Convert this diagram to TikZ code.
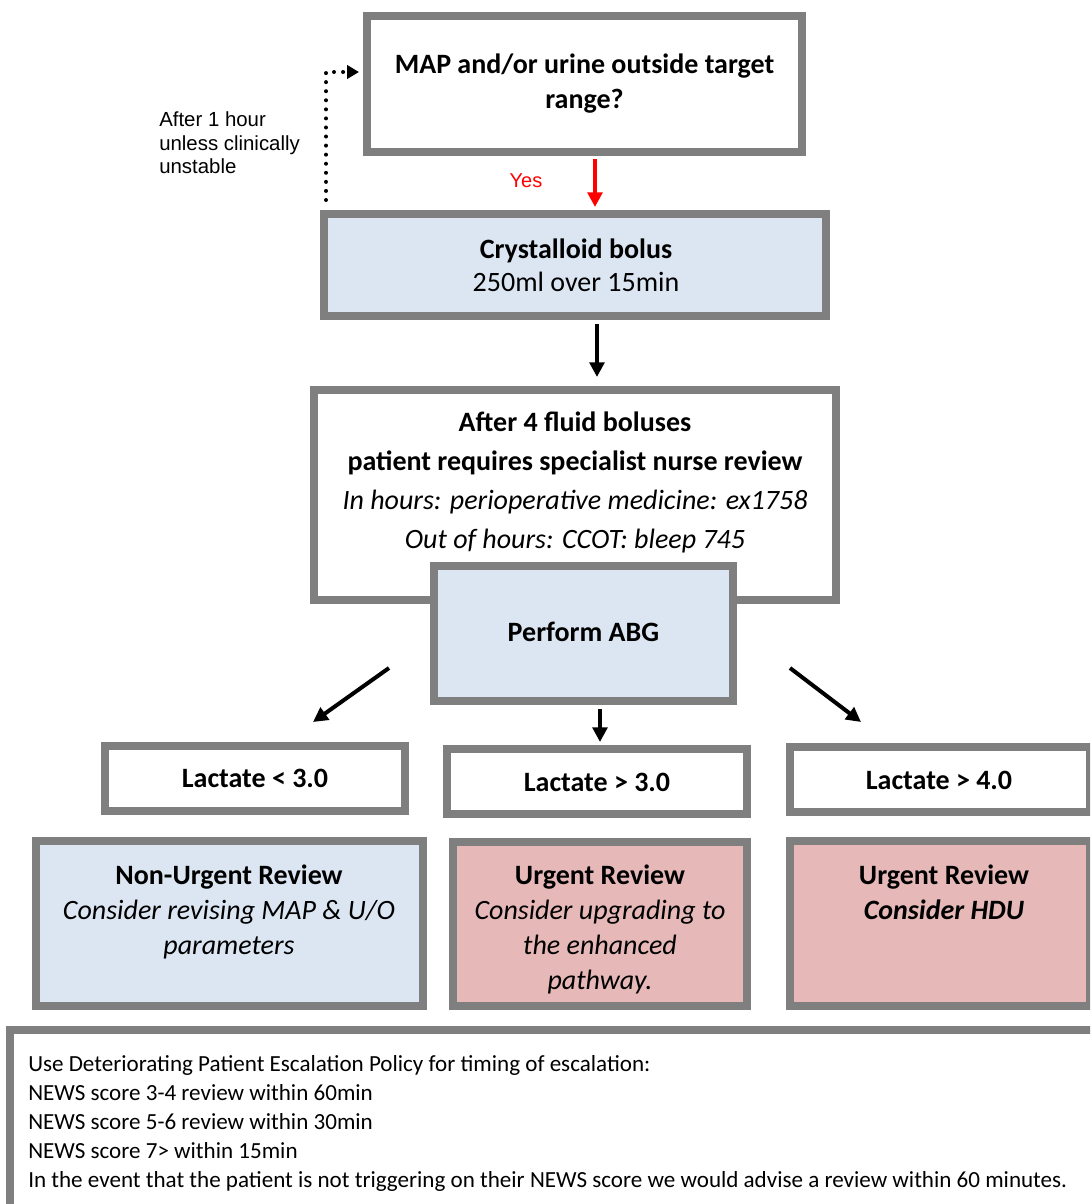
\documentclass[tikz,border=0pt]{standalone}
\usepackage{fontspec}
\setmainfont{Carlito}
\newfontfamily\arialf{Liberation Sans}
\usetikzlibrary{arrows.meta,calc}
\definecolor{bgray}{RGB}{127,127,127}
\definecolor{lblue}{RGB}{220,230,242}
\definecolor{lpink}{RGB}{230,185,184}
\definecolor{yesred}{RGB}{255,0,0}
\begin{document}
\begin{tikzpicture}[x=0.75pt,y=-0.75pt,
  box/.style={draw=bgray,line width=6pt,inner sep=0pt,rectangle},
  txt/.style={inner sep=0pt,align=center,font=\fontsize{21}{26.25}\selectfont},
  btxt/.style={inner sep=0pt,align=center,font=\fontsize{21}{26.25}\selectfont\bfseries},
  arr/.style={line width=3pt,-{Triangle[length=11pt,width=11pt]}},
  note/.style={inner sep=0pt,align=left,font=\fontsize{17.3}{21.75}\selectfont},
  ann/.style={inner sep=0pt,align=left,font=\arialf\fontsize{15.3}{17.6}\selectfont}]
\clip (0,0) rectangle (1090,1204);
\fill[white] (0,0) rectangle (1090,1204);

% boxes
\node[box,fill=white,minimum width=326.25pt,minimum height=102pt] (map) at (584.5,84) {};
\node[box,fill=lblue,minimum width=376.5pt,minimum height=76.5pt] (cryst) at (575,265) {};
\node[box,fill=white,minimum width=391.5pt,minimum height=157.5pt] (after) at (575,495) {};
\node[box,fill=lblue,minimum width=224.25pt,minimum height=101.25pt] (abg) at (583.5,633.5) {};
\node[box,fill=white,minimum width=225pt,minimum height=48.75pt] (la) at (255,778.5) {};
\node[box,fill=white,minimum width=225pt,minimum height=48.75pt] (lb) at (597,781.5) {};
\node[box,fill=white,minimum width=225pt,minimum height=48.75pt] (lc) at (940,779) {};
\node[box,fill=lblue,minimum width=290.25pt,minimum height=123.75pt] (nu) at (229.5,923.5) {};
\node[box,fill=lpink,minimum width=220.5pt,minimum height=123pt] (ur) at (600,924) {};
\node[box,fill=lpink,minimum width=225pt,minimum height=123.75pt] (urh) at (940,923.5) {};
\node[box,fill=white,minimum width=817.5pt,minimum height=135pt] (policy) at (555,1120) {};

% texts
\node[btxt] (tmap) at (584.5,83.5) {MAP and/or urine outside target\\range?};
\node[txt,font=\fontsize{21}{24.75}\selectfont] (tcryst) at (576,265) {\textbf{Crystalloid bolus}\\250ml over 15min};
\node[txt,font=\fontsize{21}{29.25}\selectfont] (tafter) at (575,482.5) {\textbf{After 4 fluid boluses}\\\textbf{patient requires specialist nurse review}\\\textit{In hours: perioperative medicine: ex1758}\\\textit{Out of hours: CCOT: bleep 745}};
\node[btxt] (tabg) at (583.5,632) {Perform ABG};
\node[btxt] (tla) at (255,778) {Lactate < 3.0};
\node[btxt] (tlb) at (597,782) {Lactate > 3.0};
\node[btxt] (tlc) at (939,780) {Lactate > 4.0};
\node[txt] (tnu) at (229,912) {\textbf{Non-Urgent Review}\\\textit{Consider revising MAP \& U/O}\\\textit{parameters}};
\node[txt] (tur) at (600,929) {\textbf{Urgent Review}\\\textit{Consider upgrading to}\\\textit{the enhanced}\\\textit{pathway.}};
\node[txt] (turh) at (944,892) {\textbf{Urgent Review}\\\textbf{\textit{Consider HDU}}};
\node[note,anchor=north west] (tpolicy) at (28,1055) {Use Deteriorating Patient Escalation Policy for timing of escalation:\\NEWS score 3-4 review within 60min\\NEWS score 5-6 review within 30min\\NEWS score 7> within 15min\\In the event that the patient is not triggering on their NEWS score we would advise a review within 60 minutes.};
\node[ann,anchor=west] (tann) at (159,143) {After 1 hour\\unless clinically\\unstable};
\node[inner sep=0pt,text=yesred,font=\arialf\fontsize{15}{18}\selectfont] (tyes) at (526,181) {Yes};

% connectors
\draw[arr,draw=yesred,fill=yesred]
  ($(map.south)+(10.5,3)$) -- ($(cryst.north)+(20,-3)$);
\draw[arr] ($(cryst.south)+(22,4)$) -- ($(after.north)+(22,-9)$);
\draw[arr] ($(abg.south)+(16.5,4)$) -- ($(lb.north)+(3,-3)$);
\coordinate (dl1) at (389,668);
\coordinate (dl2) at (313,722);
\coordinate (dr1) at (790,668);
\coordinate (dr2) at (861,722);
\draw[arr] (dl1) -- (dl2);
\draw[arr] (dr1) -- (dr2);
\coordinate (loop0) at (326,200);
\coordinate (loop1) at (326,72);
\draw[line width=3pt,line cap=round,dash pattern=on 0pt off 6.8pt] (loop0) -- (loop1) -- ($(map.west)+(-16,-12)$);
\draw[line width=2.4pt,-{Triangle[length=9pt,width=10pt]}] ($(map.west)+(-15,-12)$) -- ($(map.west)+(-4,-12)$);
\end{tikzpicture}
\end{document}
